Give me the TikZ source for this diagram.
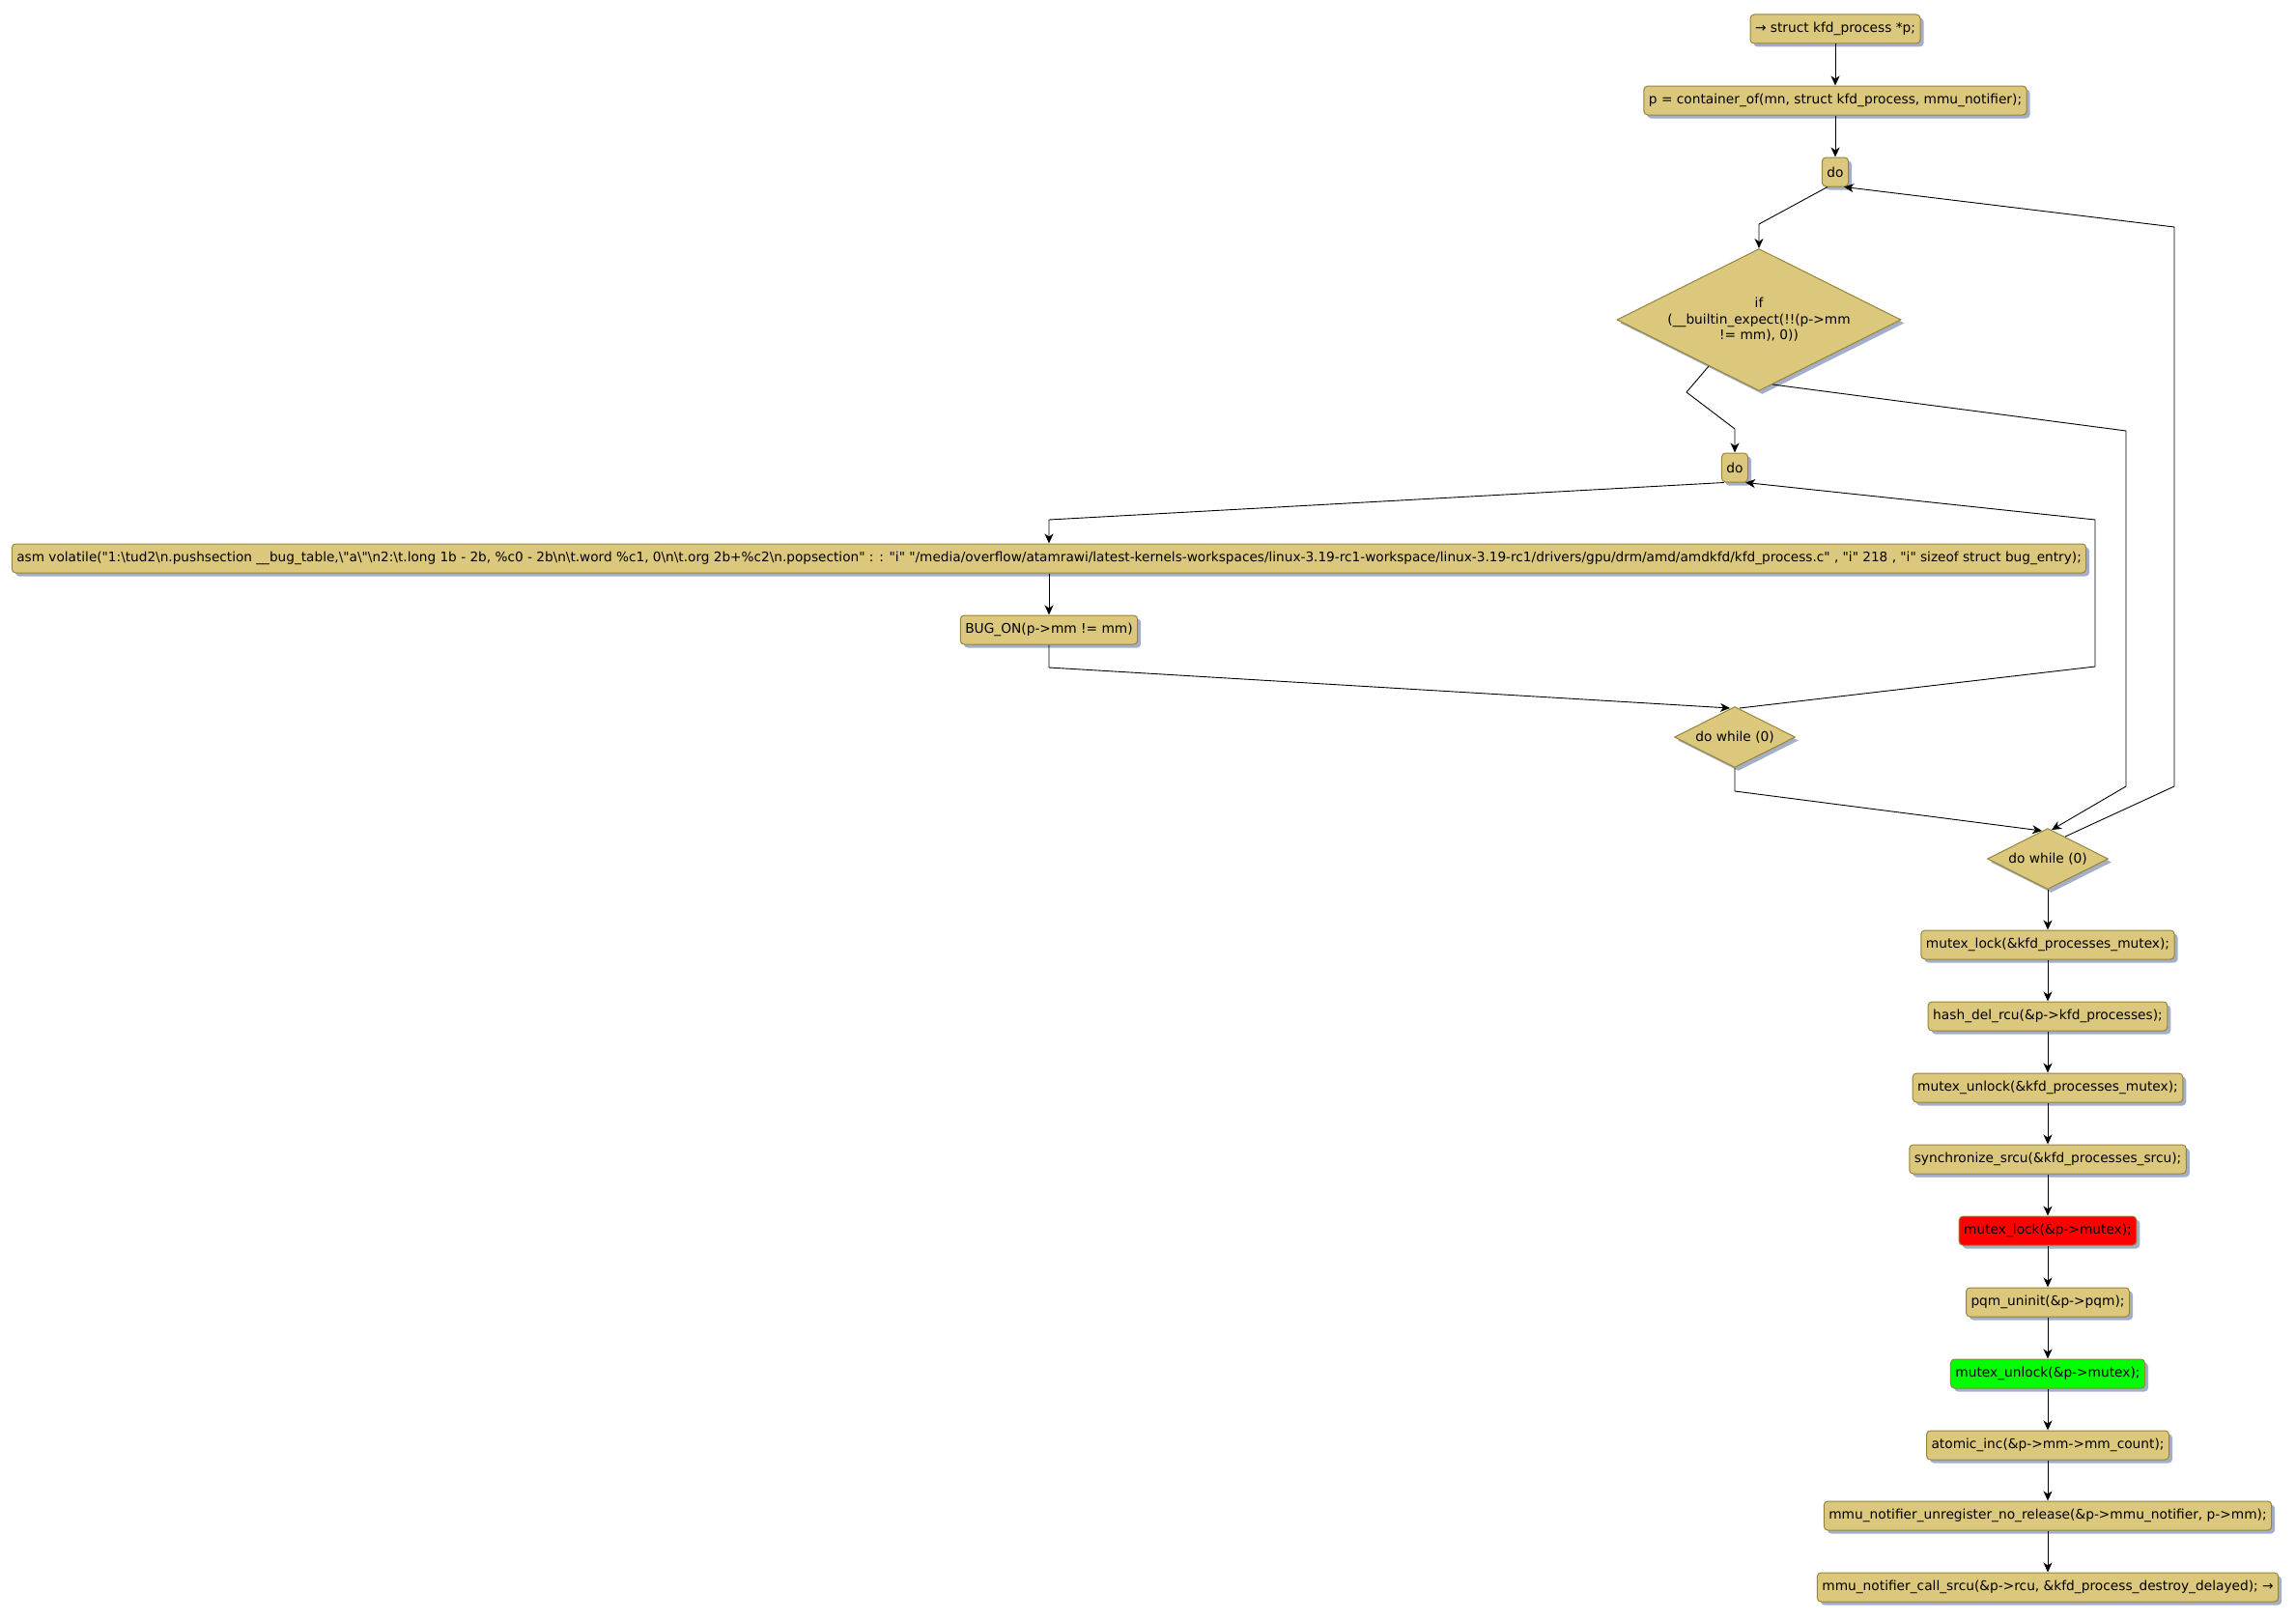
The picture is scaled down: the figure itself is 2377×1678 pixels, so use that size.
\documentclass[tikz,border=0pt]{standalone}
\usepackage{fontspec}
\setmainfont{DejaVu Sans}[Ligatures=TeXOff]
\usepackage{tikz}
\usetikzlibrary{calc,arrows.meta,shapes.geometric,shadows}
\definecolor{boxfill}{HTML}{DCC87C}
\definecolor{rim}{HTML}{968438}
\definecolor{shadowblue}{HTML}{A3AEC8}
\definecolor{lockred}{HTML}{FF0000}
\definecolor{lockgreen}{HTML}{00FF00}
\newcommand{\bsl}{\textbackslash}
\tikzset{
  act/.style={draw=rim, fill=boxfill, line width=1pt, rounded corners=4pt,
    inner xsep=5pt, inner ysep=3pt, minimum height=30pt,
    font=\fontsize{13.75}{16.5}\selectfont,
    drop shadow={shadow xshift=3.5pt, shadow yshift=-3.5pt, fill=shadowblue, opacity=1}},
  cond/.style={diamond, shape aspect=2, draw=rim, fill=boxfill, line width=1pt,
    inner sep=0pt, align=center, font=\fontsize{13.75}{16.5}\selectfont,
    drop shadow={shadow xshift=3.5pt, shadow yshift=-3.5pt, fill=shadowblue, opacity=1}},
  hot/.style={act, fill=lockred},
  cool/.style={act, fill=lockgreen},
  flow/.style={draw=black, line width=0.9pt, line join=round,
    -{Stealth[length=10pt,width=9pt,inset=3pt]}},
}

\begin{document}
\begin{tikzpicture}[x=1pt, y=-1pt]
  \useasboundingbox (0,0) rectangle (2377,1678);
  % entry and outer do
  \node[act] (start) at (1900,30) {→ struct kfd\_process *p;};
  \node[act] (cont) at (1900,104) {p = container\_of(mn, struct kfd\_process, mmu\_notifier);};
  \node[act] (do1) at (1900,178) {do};
  \node[cond, minimum width=294pt, minimum height=147pt] (if1) at (1821,331)
    {if\\(\_\_builtin\_expect(!!(p->mm\\!= mm), 0))};
  % inner do ... while (0)
  \node[act] (do2) at (1796,484) {do};
  \node[act, font=\fontsize{13.65}{16.5}\selectfont] (asm) at (1086,578) {asm volatile("1:\bsl tud2\bsl n.pushsection \_\_bug\_table,\bsl"a\bsl"\bsl n2:\bsl t.long 1b - 2b, \%c0 - 2b\bsl n\bsl t.word \%c1, 0\bsl n\bsl t.org 2b+\%c2\bsl n.popsection" : : "i" "/media/overflow/atamrawi/latest-kernels-workspaces/linux-3.19-rc1-workspace/linux-3.19-rc1/drivers/gpu/drm/amd/amdkfd/kfd\_process.c" , "i" 218 , "i" sizeof struct bug\_entry);};
  \node[act] (bug) at (1086,652) {BUG\_ON(p->mm != mm)};
  \node[cond, minimum width=125pt, minimum height=63pt] (wh2) at (1796,763) {do while (0)};
  \node[cond, minimum width=125pt, minimum height=63pt] (wh1) at (2120,889) {do while (0)};
  % straight chain
  \node[act] (lock) at (2120,978) {mutex\_lock(\&kfd\_processes\_mutex);};
  \node[act] (hdel) at (2120,1052) {hash\_del\_rcu(\&p->kfd\_processes);};
  \node[act] (unlock) at (2120,1126) {mutex\_unlock(\&kfd\_processes\_mutex);};
  \node[act] (sync) at (2120,1200) {synchronize\_srcu(\&kfd\_processes\_srcu);};
  \node[hot] (plock) at (2120,1274) {mutex\_lock(\&p->mutex);};
  \node[act] (pqm) at (2120,1348) {pqm\_uninit(\&p->pqm);};
  \node[cool] (punlock) at (2120,1422) {mutex\_unlock(\&p->mutex);};
  \node[act] (inc) at (2120,1496) {atomic\_inc(\&p->mm->mm\_count);};
  \node[act] (unreg) at (2120,1569) {mmu\_notifier\_unregister\_no\_release(\&p->mmu\_notifier, p->mm);};
  \node[act] (call) at (2120,1643) {mmu\_notifier\_call\_srcu(\&p->rcu, \&kfd\_process\_destroy\_delayed); →};

  \draw[flow] (start) -- (cont);
  \draw[flow] (cont) -- (do1);
  \draw[flow] ($(do1.south)+(-8,0)$) -- (1821,232) -- (if1.north);
  \draw[flow] ($(if1.south)+(-52,-26)$) -- (1746,406) -- (1796,444) -- (do2.north);
  \draw[flow] ($(if1.south)+(14,-7)$) -- (2201,446) -- (2201,814) -- ($(wh1.north)+(4,2)$);
  \draw[flow] ($(do2.south west)+(3,0)$) -- (1086,538) -- (asm.north);
  \draw[flow] (asm) -- (bug);
  \draw[flow] (bug.south) -- (1086,691) -- ($(wh2.north)+(-5,2)$);
  \draw[flow] ($(wh2.north)+(5,2)$) -- (2169,690) -- (2169,538) -- ($(do2.south east)+(-3,0)$);
  \draw[flow] (wh2.south) -- (1796,819) -- ($(wh1.north)+(-6,3)$);
  \draw[flow] ($(wh1.north)+(18,9)$) -- (2251,814) -- (2251,235) -- ($(do1.south)+(9,0)$);
  \draw[flow] (wh1) -- (lock);
  \draw[flow] (lock) -- (hdel);
  \draw[flow] (hdel) -- (unlock);
  \draw[flow] (unlock) -- (sync);
  \draw[flow] (sync) -- (plock);
  \draw[flow] (plock) -- (pqm);
  \draw[flow] (pqm) -- (punlock);
  \draw[flow] (punlock) -- (inc);
  \draw[flow] (inc) -- (unreg);
  \draw[flow] (unreg) -- (call);
\end{tikzpicture}
\end{document}
